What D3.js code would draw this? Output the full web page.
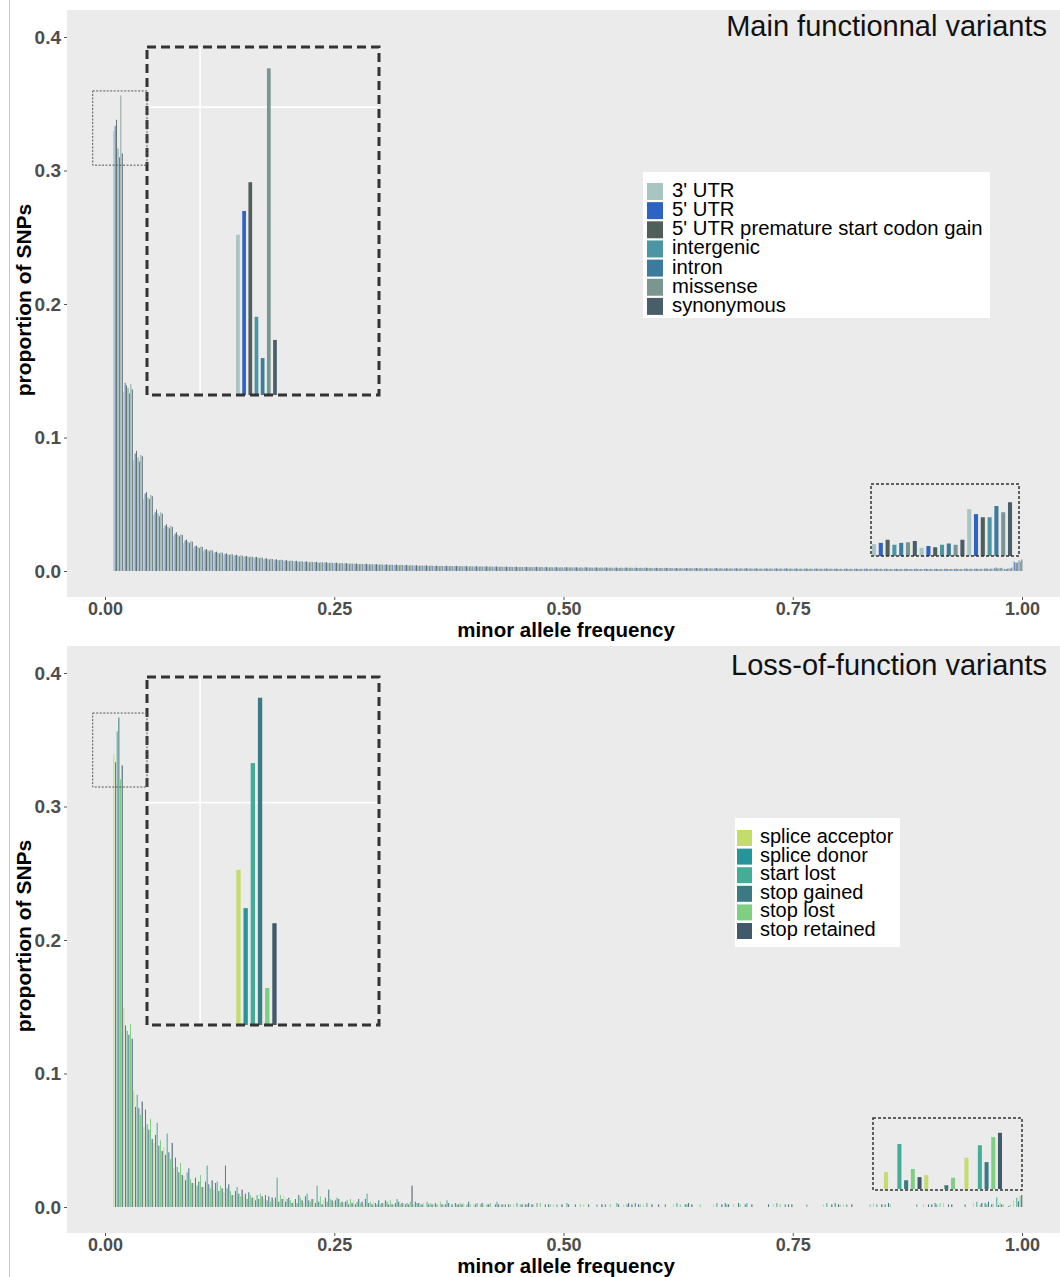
<!DOCTYPE html>
<html>
<head>
<meta charset="utf-8">
<script src="https://cdn.jsdelivr.net/npm/d3@7"></script>
<style>
  body { margin: 0; background: #fff; }
  svg { display: block; }
</style>
</head>
<body>
<script>
// minor allele frequency bins (centres) and bin width
const mafBins = [
  0.0142, 0.0251, 0.0360, 0.0469, 0.0578, 0.0687, 0.0796, 0.0905, 0.1014, 0.1123,
  0.1232, 0.1341, 0.1450, 0.1559, 0.1668, 0.1777, 0.1886, 0.1995, 0.2104, 0.2213,
  0.2322, 0.2431, 0.2540, 0.2649, 0.2758, 0.2867, 0.2976, 0.3085, 0.3194, 0.3303,
  0.3412, 0.3521, 0.3630, 0.3739, 0.3848, 0.3957, 0.4066, 0.4175, 0.4284, 0.4393,
  0.4502, 0.4611, 0.4720, 0.4829, 0.4938, 0.5047, 0.5156, 0.5265, 0.5374, 0.5483,
  0.5592, 0.5701, 0.5810, 0.5919, 0.6028, 0.6137, 0.6246, 0.6355, 0.6464, 0.6573,
  0.6682, 0.6791, 0.6900, 0.7009, 0.7118, 0.7227, 0.7336, 0.7445, 0.7554, 0.7663,
  0.7772, 0.7881, 0.7990, 0.8099, 0.8208, 0.8317, 0.8426, 0.8535, 0.8644, 0.8753,
  0.8862, 0.8971, 0.9080, 0.9189, 0.9298, 0.9407, 0.9516, 0.9625, 0.9734, 0.9843,
  0.9952
]
const binWidth = 0.0109

const xTicks = [0, 0.25, 0.5, 0.75, 1]
const yTicks = [0, 0.1, 0.2, 0.3, 0.4]

// ---- main functional variants (values in % of SNPs) ----
const mainCategories = ["3' UTR", "5' UTR", "5' UTR premature start codon gain", "intergenic", "intron", "missense", "synonymous"]
const mainColors = ['#a9c5c2', '#2c63c4', '#4f5f5a', '#4c95a2', '#3c7b9c', '#7b9691', '#4a5e6a']

const utr3 = [
  32.96, 13.4, 8.3, 5.4, 4.2, 3.2, 2.6, 2.1, 1.74, 1.5,
  1.33, 1.21, 1.12, 1.04, 0.97, 0.87, 0.8, 0.75, 0.7, 0.66,
  0.63, 0.6, 0.57, 0.54, 0.51, 0.49, 0.48, 0.46, 0.44, 0.42,
  0.4, 0.39, 0.37, 0.36, 0.36, 0.34, 0.33, 0.32, 0.31, 0.31,
  0.29, 0.28, 0.28, 0.27, 0.27, 0.26, 0.25, 0.25, 0.24, 0.24,
  0.23, 0.23, 0.22, 0.22, 0.21, 0.21, 0.2, 0.2, 0.2, 0.19,
  0.19, 0.18, 0.18, 0.18, 0.17, 0.17, 0.17, 0.17, 0.16, 0.16,
  0.16, 0.16, 0.15, 0.15, 0.15, 0.15, 0.15, 0.14, 0.14, 0.14,
  0.14, 0.14, 0.14, 0.14, 0.14, 0.15, 0.15, 0.16, 0.19, 0.13,
  0.75
]
const utr5 = [
  33.34, 14.1, 8.8, 5.8, 4.4, 3.4, 2.8, 2.3, 1.86, 1.6,
  1.41, 1.29, 1.18, 1.1, 1.03, 0.93, 0.86, 0.79, 0.74, 0.7,
  0.67, 0.64, 0.61, 0.58, 0.55, 0.53, 0.5, 0.48, 0.46, 0.44,
  0.42, 0.41, 0.39, 0.38, 0.37, 0.36, 0.35, 0.34, 0.33, 0.32,
  0.31, 0.3, 0.3, 0.29, 0.28, 0.28, 0.27, 0.27, 0.26, 0.26,
  0.25, 0.25, 0.24, 0.24, 0.23, 0.23, 0.22, 0.22, 0.22, 0.21,
  0.21, 0.2, 0.2, 0.2, 0.19, 0.19, 0.19, 0.19, 0.18, 0.18,
  0.18, 0.18, 0.17, 0.17, 0.17, 0.17, 0.17, 0.16, 0.16, 0.16,
  0.16, 0.16, 0.16, 0.16, 0.16, 0.17, 0.17, 0.18, 0.21, 0.16,
  0.67
]
const utr5Premature = [
  33.8, 13.9, 9.0, 5.9, 4.6, 3.5, 2.9, 2.35, 1.9, 1.64,
  1.45, 1.32, 1.22, 1.13, 1.06, 0.95, 0.88, 0.82, 0.76, 0.72,
  0.69, 0.66, 0.63, 0.59, 0.56, 0.54, 0.52, 0.5, 0.48, 0.46,
  0.44, 0.42, 0.4, 0.39, 0.38, 0.37, 0.36, 0.35, 0.34, 0.33,
  0.32, 0.31, 0.31, 0.3, 0.29, 0.29, 0.28, 0.28, 0.27, 0.27,
  0.26, 0.26, 0.25, 0.25, 0.24, 0.24, 0.23, 0.23, 0.23, 0.22,
  0.22, 0.21, 0.21, 0.21, 0.2, 0.2, 0.2, 0.2, 0.19, 0.19,
  0.19, 0.19, 0.18, 0.18, 0.18, 0.18, 0.18, 0.17, 0.17, 0.17,
  0.17, 0.17, 0.17, 0.17, 0.17, 0.18, 0.18, 0.19, 0.26, 0.14,
  0.62
]
const intergenic = [
  31.65, 13.7, 8.5, 5.5, 4.3, 3.3, 2.7, 2.2, 1.8, 1.54,
  1.36, 1.24, 1.14, 1.06, 0.99, 0.89, 0.82, 0.76, 0.71, 0.67,
  0.64, 0.61, 0.58, 0.55, 0.52, 0.5, 0.48, 0.46, 0.44, 0.42,
  0.4, 0.39, 0.38, 0.37, 0.36, 0.35, 0.34, 0.33, 0.32, 0.31,
  0.3, 0.29, 0.29, 0.28, 0.27, 0.27, 0.26, 0.26, 0.25, 0.25,
  0.24, 0.24, 0.23, 0.23, 0.22, 0.22, 0.21, 0.21, 0.21, 0.2,
  0.2, 0.19, 0.19, 0.19, 0.18, 0.18, 0.18, 0.18, 0.17, 0.17,
  0.17, 0.17, 0.16, 0.16, 0.16, 0.16, 0.16, 0.15, 0.15, 0.15,
  0.15, 0.15, 0.15, 0.15, 0.15, 0.16, 0.16, 0.17, 0.18, 0.18,
  0.62
]
const intron = [
  30.99, 13.3, 8.2, 5.4, 4.1, 3.2, 2.6, 2.1, 1.72, 1.48,
  1.31, 1.2, 1.1, 1.03, 0.96, 0.86, 0.8, 0.74, 0.69, 0.65,
  0.62, 0.6, 0.57, 0.54, 0.51, 0.49, 0.47, 0.45, 0.43, 0.41,
  0.39, 0.38, 0.37, 0.36, 0.35, 0.34, 0.33, 0.32, 0.31, 0.3,
  0.29, 0.28, 0.28, 0.27, 0.26, 0.26, 0.25, 0.25, 0.24, 0.24,
  0.23, 0.23, 0.22, 0.22, 0.21, 0.21, 0.2, 0.2, 0.2, 0.19,
  0.19, 0.18, 0.18, 0.18, 0.17, 0.17, 0.17, 0.17, 0.16, 0.16,
  0.16, 0.16, 0.15, 0.15, 0.15, 0.15, 0.15, 0.14, 0.14, 0.14,
  0.14, 0.14, 0.14, 0.14, 0.14, 0.15, 0.15, 0.16, 0.21, 0.2,
  0.8
]
const missense = [
  35.62, 14.0, 8.7, 5.7, 4.4, 3.4, 2.75, 2.25, 1.84, 1.58,
  1.4, 1.27, 1.17, 1.09, 1.02, 0.92, 0.85, 0.79, 0.73, 0.69,
  0.66, 0.63, 0.6, 0.57, 0.54, 0.52, 0.5, 0.48, 0.46, 0.44,
  0.42, 0.41, 0.39, 0.38, 0.37, 0.36, 0.35, 0.34, 0.33, 0.32,
  0.31, 0.3, 0.3, 0.29, 0.28, 0.28, 0.27, 0.27, 0.26, 0.26,
  0.25, 0.25, 0.24, 0.24, 0.23, 0.23, 0.22, 0.22, 0.22, 0.21,
  0.21, 0.2, 0.2, 0.2, 0.19, 0.19, 0.19, 0.19, 0.18, 0.18,
  0.18, 0.18, 0.17, 0.17, 0.17, 0.17, 0.17, 0.16, 0.16, 0.16,
  0.16, 0.16, 0.16, 0.16, 0.16, 0.17, 0.17, 0.18, 0.22, 0.18,
  0.7
]
const synonymous = [
  31.28, 13.6, 8.6, 5.6, 4.3, 3.3, 2.7, 2.2, 1.8, 1.55,
  1.37, 1.25, 1.15, 1.07, 1.0, 0.9, 0.83, 0.77, 0.72, 0.68,
  0.65, 0.62, 0.59, 0.56, 0.53, 0.51, 0.49, 0.47, 0.45, 0.43,
  0.41, 0.4, 0.38, 0.37, 0.36, 0.35, 0.34, 0.33, 0.32, 0.31,
  0.3, 0.29, 0.29, 0.28, 0.27, 0.27, 0.26, 0.26, 0.25, 0.25,
  0.24, 0.24, 0.23, 0.23, 0.22, 0.22, 0.21, 0.21, 0.21, 0.2,
  0.2, 0.19, 0.19, 0.19, 0.18, 0.18, 0.18, 0.18, 0.17, 0.17,
  0.17, 0.17, 0.16, 0.16, 0.16, 0.16, 0.16, 0.15, 0.15, 0.15,
  0.15, 0.15, 0.15, 0.15, 0.15, 0.16, 0.16, 0.17, 0.24, 0.26,
  0.86
]

// ---- loss-of-function variants (values in % of SNPs) ----
const lofCategories = ['splice acceptor', 'splice donor', 'start lost', 'stop gained', 'stop lost', 'stop retained']
const lofColors = ['#c4dc6c', '#27939a', '#44ac97', '#3b7a82', '#7fcf83', '#405a6c']

const spliceAcceptor = [
  33.93, 14.9, 8.7, 6.0, 4.8, 4.5, 2.9, 2.3, 1.8, 1.5,
  1.3, 1.1, 0.9, 0.8, 0.7, 0.6, 0.5, 0.8, 0.4, 0.3,
  0.6, 0.5, 0.4, 0.3, 0.5, 0.2, 0.4, 0.3, 0.2, 0.3,
  0.2, 0.3, 0.2, 0.2, 0, 0.3, 0.2, 0.2, 0, 0.2,
  0.2, 0, 0.2, 0, 0.2, 0, 0, 0.2, 0, 0,
  0, 0.2, 0, 0.2, 0, 0, 0.2, 0, 0, 0,
  0.2, 0, 0.2, 0, 0, 0, 0.2, 0, 0, 0,
  0, 0.2, 0, 0.2, 0, 0, 0.3, 0, 0, 0,
  0, 0.2, 0, 0.3, 0, 0, 0.3, 0, 0.27, 0.22,
  0.5
]
const spliceDonor = [
  33.32, 13.6, 7.5, 7.3, 5.4, 3.9, 3.7, 2.0, 2.2, 1.9,
  1.8, 3.1, 1.2, 1.0, 0.5, 0.9, 0.7, 0.4, 0.6, 0.8,
  0.3, 0.7, 0.5, 0.4, 0.2, 0.6, 0.3, 0.5, 0.3, 0.2,
  0.4, 0, 0.3, 0.2, 0.3, 0, 0.2, 0, 0.2, 0.2,
  0, 0.2, 0, 0.2, 0, 0, 0.2, 0, 0, 0.2,
  0, 0, 0.3, 0, 0, 0.2, 0, 0.2, 0, 0,
  0, 0.3, 0, 0.2, 0, 0, 0, 0.2, 0, 0,
  0, 0, 0.3, 0, 0, 0, 0, 0.2, 0, 0,
  0, 0, 0.3, 0, 0, 0.2, 0, 0.3, 0, 0,
  0
]
const startLost = [
  35.63, 13.2, 8.4, 6.2, 6.3, 5.5, 3.0, 2.6, 1.6, 3.1,
  1.9, 1.4, 1.5, 0.6, 0.9, 0.5, 2.2, 0.6, 0.3, 1.0,
  1.6, 0.4, 0.7, 0.5, 0.4, 1.0, 0.2, 0.4, 0.6, 0.3,
  0.3, 0.4, 0.2, 0.5, 0.2, 0.2, 0.3, 0.2, 0.4, 0,
  0.3, 0.2, 0.3, 0, 0.2, 0.3, 0, 0, 0.2, 0,
  0.3, 0.2, 0, 0.3, 0, 0, 0.3, 0.2, 0, 0,
  0.3, 0.2, 0, 0.3, 0, 0, 0.3, 0, 0, 0.2,
  0, 0.3, 0, 0.2, 0, 0, 0.2, 0, 0, 0,
  0.2, 0, 0.2, 0, 0, 0, 0.4, 0.2, 0.72, 0,
  0.7
]
const stopGained = [
  36.67, 12.9, 7.4, 5.8, 4.6, 4.1, 2.6, 2.9, 1.9, 1.7,
  1.2, 1.7, 1.0, 1.1, 0.6, 0.8, 0.4, 0.7, 0.9, 0.5,
  0.4, 1.3, 0.6, 0.2, 0.6, 0.3, 0.5, 0.2, 0.4, 0.2,
  0.3, 0.2, 0, 0.3, 0.2, 0.4, 0, 0.2, 0.2, 0.2,
  0, 0.3, 0, 0.2, 0, 0.2, 0, 0.2, 0, 0,
  0.2, 0.3, 0.2, 0, 0.2, 0, 0, 0.3, 0, 0,
  0, 0.2, 0.3, 0, 0, 0.2, 0, 0.2, 0, 0,
  0, 0, 0.2, 0, 0, 0, 0, 0.3, 0, 0,
  0, 0.2, 0, 0.2, 0, 0, 0, 0.4, 0.14, 0.06,
  0.43
]
const stopLost = [
  32.05, 13.7, 6.9, 6.6, 5.0, 3.6, 3.3, 2.1, 2.4, 1.4,
  1.6, 1.2, 0.8, 0.9, 1.0, 0.4, 0.9, 0.5, 0.7, 0.4,
  0.8, 0.6, 0.3, 0.6, 0.3, 0.4, 0.2, 0.5, 0.2, 0.4,
  0.2, 0.3, 0.4, 0, 0.3, 0.2, 0.2, 0.3, 0, 0.2,
  0.2, 0, 0.3, 0.2, 0, 0, 0.2, 0, 0, 0.2,
  0, 0, 0.2, 0, 0, 0, 0.2, 0, 0.2, 0,
  0, 0, 0.2, 0, 0, 0, 0.2, 0, 0, 0,
  0, 0, 0.2, 0, 0, 0.2, 0, 0.2, 0, 0,
  0, 0, 0.3, 0, 0, 0, 0.2, 0, 0.32, 0.18,
  0.83
]
const stopRetained = [
  33.08, 12.6, 7.9, 5.1, 4.2, 4.8, 2.4, 1.8, 1.5, 2.0,
  1.4, 0.9, 1.3, 0.7, 0.8, 0.7, 0.6, 0.3, 0.5, 0.6,
  0.2, 0.5, 0.4, 0.3, 0.4, 0.2, 0.3, 0.2, 0.3, 1.6,
  0.2, 0.2, 0.2, 0.2, 0.2, 0, 0.3, 0, 0.2, 0,
  0.2, 0.2, 0, 0, 0.2, 0, 0, 0, 0.2, 0,
  0, 0.2, 0, 0.2, 0, 0, 0, 0.2, 0, 0,
  0.2, 0, 0, 0.2, 0, 0, 0, 0.2, 0, 0,
  0, 0.2, 0, 0.2, 0, 0, 0.2, 0, 0, 0,
  0, 0.2, 0, 0.2, 0, 0, 0.3, 0.2, 0.19, 0,
  0.9
]

const FONT = '"Liberation Sans", Arial, Helvetica, sans-serif'
const W = 1060
const H = 1277

const svg = d3.select('body')
  .append('svg')
  .attr('width', W)
  .attr('height', H)

// thin frame line on the left of the figure
svg.append('line')
  .attr('x1', 9.5).attr('x2', 9.5)
  .attr('y1', 0).attr('y2', H)
  .attr('stroke', '#c9c9c9')

let clipId = 0

function drawPanel(cfg) {
  const off = cfg.offset
  const g = svg.append('g')
  const nCat = cfg.categories.length
  const slot = binWidth / nCat

  const x = d3.scaleLinear().domain([0, 1]).range([105, 1022])
  const y = d3.scaleLinear().domain([0, 0.4]).range([off + 571, off + 37])

  const rows = []
  mafBins.forEach((b, i) => {
    cfg.series.forEach((s, j) => {
      if (s[i] > 0) rows.push({ bin: b, cat: j, value: s[i] / 100 })
    })
  })
  const slotCentre = d => d.bin - binWidth / 2 + (d.cat + 0.5) * slot

  function drawBars(parent, data, xs, ys, base) {
    const w = (xs(slot) - xs(0)) * 0.6
    parent.selectAll(null)
      .data(data)
      .join('rect')
      .attr('x', d => xs(slotCentre(d)) - w / 2)
      .attr('width', w)
      .attr('y', d => ys(d.value))
      .attr('height', d => Math.max(0, base - ys(d.value)))
      .attr('fill', d => cfg.colors[d.cat])
  }

  // panel background
  g.append('rect')
    .attr('x', 67).attr('y', off + 10)
    .attr('width', W - 67).attr('height', 587)
    .attr('fill', '#ebebeb')

  drawBars(g.append('g'), rows, x, y, y(0))

  // axes
  const yAxis = d3.axisLeft(y).tickValues(yTicks).tickFormat(d3.format('.1f')).tickSize(3).tickPadding(3)
  const ya = g.append('g')
    .attr('transform', 'translate(67,0)')
    .call(yAxis)
  ya.select('.domain').remove()
  ya.selectAll('line').attr('stroke', '#555')
  ya.selectAll('text')
    .attr('font-family', FONT).attr('font-size', 19).attr('font-weight', 'bold').attr('fill', '#4d4d4d')

  const xAxis = d3.axisBottom(x).tickValues(xTicks).tickFormat(d3.format('.2f')).tickSize(3).tickPadding(2)
  const xa = g.append('g')
    .attr('transform', 'translate(0,' + (off + 597) + ')')
    .call(xAxis)
  xa.select('.domain').remove()
  xa.selectAll('line').attr('stroke', '#555')
  xa.selectAll('text')
    .attr('font-family', FONT).attr('font-size', 18).attr('font-weight', 'bold').attr('fill', '#4d4d4d')

  g.append('text')
    .attr('x', 566).attr('y', off + 637)
    .attr('text-anchor', 'middle')
    .attr('font-family', FONT).attr('font-size', 20.5).attr('font-weight', 'bold')
    .text('minor allele frequency')

  g.append('text')
    .attr('transform', 'translate(31,' + (off + 300) + ') rotate(-90)')
    .attr('text-anchor', 'middle')
    .attr('font-family', FONT).attr('font-size', 21).attr('font-weight', 'bold')
    .text('proportion of SNPs')

  // title
  g.append('text')
    .attr('x', 1047).attr('y', cfg.titleY)
    .attr('text-anchor', 'end')
    .attr('font-family', FONT).attr('font-size', 29)
    .attr('fill', '#111')
    .text(cfg.title)

  // legend
  const L = cfg.legend
  const leg = g.append('g')
  leg.append('rect')
    .attr('x', L.x).attr('y', L.y).attr('width', L.w).attr('height', L.h)
    .attr('fill', '#fff')
  cfg.categories.forEach((c, i) => {
    leg.append('rect')
      .attr('x', L.keyX).attr('y', L.firstY + i * L.pitch)
      .attr('width', L.keySize).attr('height', L.keySize + 1)
      .attr('fill', cfg.colors[i])
    leg.append('text')
      .attr('x', L.textX).attr('y', L.firstY + i * L.pitch + L.keySize - 2)
      .attr('font-family', FONT).attr('font-size', L.fontSize)
      .text(c)
  })

  // zoomed insets
  cfg.insets.forEach(ins => {
    const ix = d3.scaleLinear().domain(ins.xDomain).range([ins.x0, ins.x1])
    const iy = d3.scaleLinear().domain(ins.yDomain).range([ins.base, ins.y0])
    const id = 'clip' + (clipId++)
    g.append('clipPath').attr('id', id)
      .append('rect')
      .attr('x', ins.x0).attr('y', ins.y0)
      .attr('width', ins.x1 - ins.x0).attr('height', ins.y1 - ins.y0)
    const ig = g.append('g').attr('clip-path', 'url(#' + id + ')')
    ig.append('rect')
      .attr('x', ins.x0).attr('y', ins.y0)
      .attr('width', ins.x1 - ins.x0).attr('height', ins.y1 - ins.y0)
      .attr('fill', '#ebebeb')
    if (ins.grid) {
      ig.append('line')
        .attr('x1', ix(0)).attr('x2', ix(0))
        .attr('y1', ins.y0).attr('y2', ins.y1)
        .attr('stroke', '#fff').attr('stroke-width', 1.6)
      ig.append('line')
        .attr('x1', ins.x0).attr('x2', ins.x1)
        .attr('y1', iy(0.35)).attr('y2', iy(0.35))
        .attr('stroke', '#fff').attr('stroke-width', 1.6)
    }
    const inData = rows.filter(d =>
      d.bin > ins.xDomain[0] && d.bin < ins.xDomain[1] && d.value > ins.yDomain[0])
    drawBars(ig, inData, ix, iy, ins.base)

    g.append('rect')
      .attr('x', ins.x0).attr('y', ins.y0)
      .attr('width', ins.x1 - ins.x0).attr('height', ins.y1 - ins.y0)
      .attr('fill', 'none')
      .attr('stroke', '#333')
      .attr('stroke-width', ins.stroke)
      .attr('stroke-dasharray', ins.dash)

    if (ins.marker) {
      // small dotted box showing the magnified region
      g.append('rect')
        .attr('x', x(ins.xDomain[0])).attr('y', y(ins.yDomain[1]))
        .attr('width', ins.x0 - x(ins.xDomain[0]))
        .attr('height', y(ins.yDomain[0]) - y(ins.yDomain[1]))
        .attr('fill', 'none')
        .attr('stroke', '#555').attr('stroke-width', 1)
        .attr('stroke-dasharray', '2,1.5')
    }
  })
}

drawPanel({
  offset: 0,
  titleY: 36,
  title: 'Main functionnal variants',
  categories: mainCategories,
  colors: mainColors,
  series: [utr3, utr5, utr5Premature, intergenic, intron, missense, synonymous],
  legend: { x: 643, y: 172, w: 347, h: 146, keyX: 647, keySize: 16, firstY: 183, pitch: 19.15, textX: 672, fontSize: 20.3 },
  insets: [
    { xDomain: [-0.0134, 0.0451], yDomain: [0.304, 0.3596], x0: 147, x1: 379, y0: 47, y1: 395, base: 395,
      stroke: 3, dash: '9,5', grid: true, marker: true },
    { xDomain: [0.96804, 1.00193], yDomain: [0, 0.01152], x0: 871, x1: 1019, y0: 484, y1: 556, base: 556,
      stroke: 1.5, dash: '3,2', grid: false, marker: false }
  ]
})

drawPanel({
  offset: 636,
  titleY: 675,
  title: 'Loss-of-function variants',
  categories: lofCategories,
  colors: lofColors,
  series: [spliceAcceptor, spliceDonor, startLost, stopGained, stopLost, stopRetained],
  legend: { x: 735, y: 818, w: 165, h: 129, keyX: 737, keySize: 15, firstY: 830, pitch: 18.6, textX: 760, fontSize: 20 },
  insets: [
    { xDomain: [-0.0134, 0.0451], yDomain: [0.3146, 0.370], x0: 147, x1: 379, y0: 677, y1: 1025, base: 1025,
      stroke: 3, dash: '9,5', grid: true, marker: true },
    { xDomain: [0.96533, 1.00571], yDomain: [0, 0.01136], x0: 873, x1: 1022, y0: 1118, y1: 1190, base: 1189,
      stroke: 1.5, dash: '3,2', grid: false, marker: false }
  ]
})
</script>
</body>
</html>
